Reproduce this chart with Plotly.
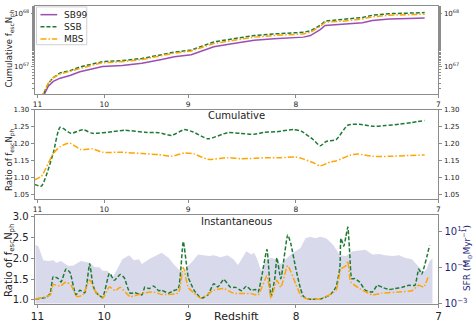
import plotly.graph_objects as go

# ---------------- data ----------------
# cosmic age (Myr) grid used for panel 1 and 2
age_cum = [413.3, 421.9, 425.3, 429.6, 435.6, 444.1, 452.7, 461.2, 472.4, 489.5, 506.6,
           523.7, 534.8, 549.4, 558.0, 569.0, 586.1, 604.1, 621.2, 646.9, 652.9, 661.4,
           665.7, 681.1, 698.2, 706.7, 721.3, 738.4, 752.1]
# log10 of cumulative f_esc * N_ph
log_cum_sb99 = [66.20, 66.49, 66.64, 66.73, 66.79, 66.84, 66.91, 66.95, 67.01, 67.03, 67.07,
                67.14, 67.19, 67.23, 67.29, 67.38, 67.44, 67.50, 67.53, 67.56, 67.59, 67.70,
                67.78, 67.80, 67.83, 67.87, 67.90, 67.91, 67.92]
log_cum_ssb = [66.23, 66.53, 66.69, 66.80, 66.89, 66.93, 67.00, 67.04, 67.10, 67.12, 67.16,
               67.23, 67.28, 67.32, 67.38, 67.47, 67.53, 67.59, 67.62, 67.65, 67.68, 67.78,
               67.86, 67.89, 67.93, 67.97, 68.00, 68.01, 68.02]
log_cum_mbs = [66.24, 66.54, 66.70, 66.80, 66.87, 66.92, 66.98, 67.02, 67.08, 67.10, 67.14,
               67.21, 67.26, 67.30, 67.36, 67.44, 67.50, 67.56, 67.59, 67.62, 67.65, 67.76,
               67.84, 67.86, 67.90, 67.94, 67.97, 67.98, 67.99]

# cumulative ratio panel
age_rc_ssb = [413.3, 419.3, 429.6, 435.6, 445.0, 455.3, 463.8, 481.0, 492.0, 509.2, 521.1,
              532.3, 543.4, 551.1, 563.9, 581.0, 592.1, 604.1, 612.7, 623.8, 638.3, 645.2,
              655.4, 661.4, 666.6, 675.1, 685.4, 695.6, 706.7, 717.9, 729.9, 741.0, 752.1]
ratio_cum_ssb = [1.079, 1.074, 1.172, 1.248, 1.230, 1.241, 1.230, 1.235, 1.239, 1.233, 1.232,
                 1.224, 1.241, 1.234, 1.214, 1.232, 1.230, 1.227, 1.233, 1.235, 1.241, 1.236,
                 1.211, 1.193, 1.206, 1.211, 1.254, 1.257, 1.251, 1.253, 1.257, 1.262, 1.268]
age_rc_mbs = [413.3, 419.3, 429.6, 435.6, 444.1, 453.5, 463.8, 472.4, 489.5, 506.6, 521.1,
              532.3, 543.4, 551.9, 563.9, 581.0, 592.1, 604.1, 615.2, 627.2, 640.0, 645.2,
              655.4, 661.4, 670.0, 675.1, 687.1, 693.9, 706.7, 721.3, 735.0, 752.1]
ratio_cum_mbs = [1.092, 1.103, 1.170, 1.191, 1.201, 1.182, 1.184, 1.174, 1.174, 1.170, 1.167,
                 1.162, 1.172, 1.169, 1.153, 1.158, 1.155, 1.156, 1.158, 1.158, 1.160, 1.156,
                 1.143, 1.134, 1.145, 1.148, 1.165, 1.169, 1.162, 1.162, 1.164, 1.166]

# instantaneous ratio panel
age_ri_ssb = [414.2, 423.6, 427.0, 429.6, 433.9, 436.4, 440.7, 444.1, 449.3, 452.7, 457.0,
              461.2, 463.8, 466.4, 472.4, 478.4, 482.6, 487.8, 491.2, 496.3, 500.6, 506.6,
              509.2, 512.6, 516.8, 521.1, 523.7, 529.7, 534.0, 538.2, 542.5, 546.8, 548.5,
              551.9, 558.0, 563.9, 569.0, 572.5, 577.6, 583.6, 588.0, 593.0, 597.3, 601.5,
              605.0, 607.5, 611.0, 615.2, 618.7, 622.1, 623.8, 627.2, 633.2, 635.8, 640.0,
              644.3, 646.9, 651.2, 661.4, 670.0, 675.1, 678.5, 679.4, 681.9, 683.7, 685.4,
              687.1, 688.8, 691.4, 695.6, 700.7, 706.7, 711.0, 715.3, 721.3, 726.4, 732.4,
              738.4, 743.6, 747.0, 749.5, 756.4]
ratio_inst_ssb = [1.02, 1.06, 1.16, 1.56, 1.51, 1.43, 1.74, 1.66, 1.12, 1.23, 1.17,
                  1.87, 1.39, 1.19, 1.06, 1.64, 1.47, 1.61, 1.53, 1.16, 1.17, 1.12,
                  1.31, 1.27, 1.33, 1.22, 1.23, 1.16, 1.22, 1.27, 2.40, 1.54, 1.43,
                  1.23, 1.04, 1.12, 1.39, 1.31, 1.49, 1.30, 1.30, 1.22, 1.33, 1.23,
                  1.25, 1.19, 1.62, 2.21, 1.08, 1.54, 2.01, 1.51, 2.56, 2.36, 1.78,
                  1.27, 1.08, 1.02, 1.02, 1.12, 1.31, 1.78, 2.48, 2.29, 2.52, 2.75,
                  2.09, 1.51, 1.51, 1.43, 1.23, 1.19, 1.35, 1.30, 1.25, 1.27, 1.30,
                  1.35, 1.35, 1.74, 1.62, 2.31]
age_ri_mbs = [414.2, 427.0, 429.6, 435.6, 440.7, 445.0, 450.1, 455.3, 461.2, 465.5, 472.4,
              478.4, 483.5, 487.8, 496.3, 509.2, 516.8, 523.7, 538.2, 542.5, 546.8, 551.9,
              558.0, 569.0, 577.6, 586.1, 601.5, 607.5, 615.2, 618.7, 623.8, 627.2, 633.2,
              640.0, 645.2, 651.2, 661.4, 675.1, 679.4, 683.7, 685.4, 687.9, 695.6, 706.7,
              715.3, 729.9, 741.0, 747.0, 751.3, 755.5]
ratio_inst_mbs = [1.02, 1.12, 1.37, 1.33, 1.43, 1.35, 1.08, 1.12, 1.48, 1.23, 1.04,
                  1.31, 1.22, 1.30, 1.08, 1.17, 1.19, 1.13, 1.17, 1.78, 1.30, 1.16,
                  1.04, 1.23, 1.27, 1.16, 1.15, 1.12, 1.58, 1.04, 1.47, 1.30, 1.82,
                  1.39, 1.08, 1.02, 1.02, 1.23, 1.74, 1.82, 1.93, 1.43, 1.27, 1.12,
                  1.16, 1.19, 1.22, 1.35, 1.31, 1.58]

# star formation rate (Msun / Myr)
age_sfr = [414.2, 416.8, 421.0, 425.3, 429.6, 432.2, 436.4, 442.4, 446.7, 453.5, 461.2,
           465.5, 469.8, 472.4, 476.6, 481.0, 485.2, 489.5, 495.5, 499.7, 504.0, 506.6,
           512.6, 517.7, 523.7, 529.7, 534.0, 538.2, 542.5, 545.1, 549.4, 555.3, 560.5,
           564.8, 569.0, 575.0, 581.0, 586.1, 590.0, 595.0, 597.3, 601.5, 604.1, 606.7,
           610.1, 612.7, 615.2, 618.7, 622.9, 627.2, 631.5, 635.8, 640.0, 644.3, 648.6,
           652.9, 657.2, 661.4, 666.6, 672.6, 678.5, 683.7, 689.6, 695.6, 700.7, 706.7,
           712.7, 717.9, 723.9, 729.9, 735.0, 741.0, 747.0, 751.3, 753.8, 756.4, 758.1,
           758.9]
sfr = [1.9, 1.55, 0.26, 0.24, 0.26, 0.19, 0.24, 0.13, 0.13, 0.24, 0.19,
       0.11, 0.105, 0.069, 0.069, 0.028, 0.085, 0.30, 0.50, 0.26, 0.30, 0.16,
       0.30, 0.45, 0.68, 0.36, 0.16, 0.085, 0.056, 0.105, 0.19, 0.55, 0.50,
       0.45, 0.50, 0.39, 0.50, 0.30, 0.14, 0.50, 0.83, 0.55, 0.68, 0.30,
       0.069, 0.16, 0.30, 0.36, 0.30, 0.16, 0.30, 0.55, 0.83, 1.26, 4.4,
       5.4, 4.4, 5.4, 4.4, 1.9, 0.50, 0.45, 0.83, 0.91, 1.02, 0.55,
       0.59, 0.50, 0.45, 0.49, 0.36, 0.30, 0.105, 0.056, 0.085, 0.24, 0.30,
       0.33]
sfr_floor = [1e-4, 1e-4]
sfr_ticks = [1e-3, 1e-1, 1e1]
sfr_tick_text = ["10<sup>−3</sup>", "10<sup>−1</sup>", "10<sup>1</sup>"]
cum_ticks = [1e67, 1e68]
cum_tick_text = ["10<sup>67</sup>", "10<sup>68</sup>"]

model_names = ["SB99", "SSB", "MBS"]

redshift_ticks = [11, 10, 9, 8, 7]
AGE_NORM = 17290.0  # Myr, matter-dominated age-redshift relation t = A (1+z)^-1.5
tick_ages = [AGE_NORM * (1 + z) ** -1.5 for z in redshift_ticks]
x_range = [AGE_NORM * (1 + 11.05) ** -1.5, AGE_NORM * (1 + 7) ** -1.5]

# ---------------- style ----------------
C_SB99 = "#9b4fb5"
C_SSB = "#1f7a34"
C_MBS = "#ffa500"
C_NAVY = "#1f1f7a"
FRAME = "#8c8c8c"
FONT = "DejaVu Sans"
DASH_SSB = "4px,2px"
DASH_MBS = "6px,2px,1.5px,2px"
model_colors = [C_SB99, C_SSB, C_MBS]
model_dash = ["solid", DASH_SSB, DASH_MBS]

W, H = 474, 329
xd = [31 / W, 441 / W]
d1 = [1 - 93 / H, 1 - 2 / H]
d2 = [1 - 201 / H, 1 - 109 / H]
d3 = [1 - 309 / H, 1 - 218 / H]

fig = go.Figure()

# panel 1
for logv, nm, col, dsh in zip([log_cum_sb99, log_cum_ssb, log_cum_mbs], model_names,
                              model_colors, model_dash):
    fig.add_trace(go.Scatter(x=age_cum, y=[10 ** v for v in logv], name=nm, mode="lines",
                             line=dict(color=col, width=1.5, dash=dsh), xaxis="x", yaxis="y"))
fig.add_trace(go.Scatter(x=age_cum[-1:], y=[10 ** log_cum_sb99[-1]], mode="markers",
                         marker=dict(opacity=0), hoverinfo="skip", xaxis="x", yaxis="y2"))

# panel 2
fig.add_trace(go.Scatter(x=age_rc_ssb, y=ratio_cum_ssb, mode="lines",
                         line=dict(color=C_SSB, width=1.5, dash=DASH_SSB, shape="spline", smoothing=0.6),
                         xaxis="x2", yaxis="y3"))
fig.add_trace(go.Scatter(x=age_rc_mbs, y=ratio_cum_mbs, mode="lines",
                         line=dict(color=C_MBS, width=1.5, dash=DASH_MBS, shape="spline", smoothing=0.6),
                         xaxis="x2", yaxis="y3"))
fig.add_trace(go.Scatter(x=age_rc_ssb[-1:], y=ratio_cum_ssb[-1:], mode="markers",
                         marker=dict(opacity=0), hoverinfo="skip", xaxis="x2", yaxis="y4"))

# panel 3: SFR fill (base axis, right side)
fig.add_trace(go.Scatter(x=[age_sfr[0], age_sfr[-1]], y=sfr_floor, mode="lines",
                         line=dict(width=0), hoverinfo="skip", xaxis="x3", yaxis="y5"))
fig.add_trace(go.Scatter(x=age_sfr, y=sfr, mode="lines", fill="tonexty",
                         fillcolor="rgba(0,0,128,0.15)", line=dict(width=0),
                         xaxis="x3", yaxis="y5"))
# ratio lines (overlay, left side)
fig.add_trace(go.Scatter(x=age_ri_ssb, y=ratio_inst_ssb, mode="lines",
                         line=dict(color=C_SSB, width=1.5, dash=DASH_SSB, shape="spline", smoothing=0.5),
                         xaxis="x3", yaxis="y6"))
fig.add_trace(go.Scatter(x=age_ri_mbs, y=ratio_inst_mbs, mode="lines",
                         line=dict(color=C_MBS, width=1.5, dash=DASH_MBS, shape="spline", smoothing=0.5),
                         xaxis="x3", yaxis="y6"))

common_ax = dict(showline=True, linecolor=FRAME, linewidth=1, mirror=True, ticks="outside",
                 ticklen=3, tickcolor=FRAME, showgrid=False, zeroline=False)
plain_ax = dict(showline=False, ticks="outside", ticklen=3, tickcolor=FRAME,
                showgrid=False, zeroline=False)
minor_log = dict(ticks="outside", ticklen=2, tickcolor=FRAME, showgrid=False)


def xaxis(anchor, fsize):
    return dict(domain=xd, anchor=anchor, range=x_range, tickvals=tick_ages,
                ticktext=[str(z) for z in redshift_ticks], tickfont=dict(size=fsize, color="#222"),
                **common_ax)


fig.update_layout(
    width=W, height=H, margin=dict(l=0, r=0, t=0, b=0),
    paper_bgcolor="white", plot_bgcolor="white",
    font=dict(family=FONT, color="#222"),
    showlegend=False,
    xaxis=xaxis("y", 7.5), xaxis2=xaxis("y3", 7.5), xaxis3=xaxis("y5", 10.5),
    yaxis=dict(domain=d1, anchor="x", type="log", range=[66.49, 68.145],
               tickvals=cum_ticks, ticktext=cum_tick_text, tickfont=dict(size=7),
               minor=minor_log, **common_ax),
    yaxis2=dict(domain=d1, anchor="x", overlaying="y", side="right", type="log",
                range=[66.49, 68.145], tickvals=cum_ticks, ticktext=cum_tick_text,
                tickfont=dict(size=7), minor=minor_log, **plain_ax),
    yaxis3=dict(domain=d2, anchor="x2", range=[1.036, 1.30], tickvals=[1.05, 1.10, 1.15, 1.20, 1.25, 1.30],
                tickformat=".2f", tickfont=dict(size=7), **common_ax),
    yaxis4=dict(domain=d2, anchor="x2", overlaying="y3", side="right", range=[1.036, 1.30],
                tickvals=[1.05, 1.10, 1.15, 1.20, 1.25, 1.30], tickformat=".2f",
                tickfont=dict(size=7), **plain_ax),
    yaxis5=dict(domain=d3, anchor="x3", side="right", type="log", range=[-3, 1.92],
                tickvals=sfr_ticks, ticktext=sfr_tick_text,
                tickfont=dict(size=10, color=C_NAVY), **common_ax),
    yaxis6=dict(domain=d3, anchor="x3", overlaying="y5", side="left", range=[0.91, 3.03],
                tickvals=[1.0, 1.5, 2.0, 2.5, 3.0], tickformat=".1f", tickfont=dict(size=10),
                **plain_ax),
)

ann = [
    dict(text="Cumulative", x=236 / W, y=1 - 115 / H, font=dict(size=10)),
    dict(text="Instantaneous", x=236 / W, y=1 - 224 / H, font=dict(size=10)),
    dict(text="Redshift", x=236 / W, y=1 - 322 / H, font=dict(size=11)),
    dict(text="Cumulative f<sub>esc</sub>N<sub>ph</sub>", x=6 / W, y=1 - 46 / H,
         textangle=-90, font=dict(size=8.5)),
    dict(text="Ratio of f<sub>esc</sub>N<sub>ph</sub>", x=6 / W, y=1 - 160 / H,
         textangle=-90, font=dict(size=8.5)),
    dict(text="Ratio of f<sub>esc</sub>N<sub>ph</sub>", x=6 / W, y=1 - 264 / H,
         textangle=-90, font=dict(size=10)),
    dict(text="SFR (M<sub>⊙</sub>Myr<sup>−1</sup>)", x=469 / W, y=1 - 262 / H,
         textangle=-90, font=dict(size=9, color=C_NAVY)),
]

# hand-built legend (compact, matplotlib style)
shapes = [dict(type="rect", xref="paper", yref="paper", x0=33 / W, x1=84 / W,
               y0=1 - 42 / H, y1=1 - 3 / H, line=dict(color="#d0d0d0", width=1),
               fillcolor="rgba(255,255,255,0.85)", layer="above")]
for i, (nm, col, dsh) in enumerate(zip(model_names, model_colors, model_dash)):
    yy = 1 - (11 + 12.5 * i) / H
    shapes.append(dict(type="line", xref="paper", yref="paper", x0=37 / W, x1=54 / W,
                       y0=yy, y1=yy, line=dict(color=col, width=1.5, dash=dsh), layer="above"))
    ann.append(dict(text=nm, x=59 / W, y=yy, xanchor="left", font=dict(size=9)))

for a in ann:
    a.setdefault("xanchor", "center")
    a.update(xref="paper", yref="paper", showarrow=False, yanchor="middle")
fig.update_layout(annotations=ann, shapes=shapes)

fig.write_html("out.html")
